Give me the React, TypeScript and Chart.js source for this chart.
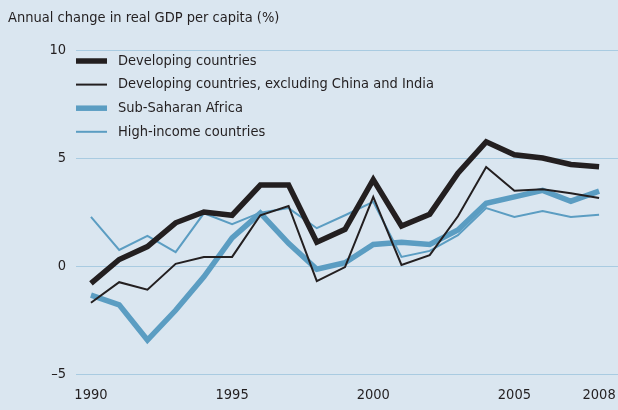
import React, { useEffect, useRef } from "react";
import { Chart, registerables } from "chart.js";

Chart.register(...registerables);

const years = [1990, 1991, 1992, 1993, 1994, 1995, 1996, 1997, 1998, 1999, 2000, 2001, 2002, 2003, 2004, 2005, 2006, 2007, 2008];
const developing = [-0.8, 0.3, 0.9, 2.0, 2.5, 2.35, 3.75, 3.75, 1.1, 1.7, 4.0, 1.85, 2.4, 4.3, 5.75, 5.15, 5.0, 4.7, 4.6];
const developingExCI = [-1.7, -0.75, -1.1, 0.1, 0.42, 0.42, 2.35, 2.78, -0.7, -0.05, 3.2, 0.05, 0.5, 2.3, 4.58, 3.48, 3.55, 3.37, 3.15];
const subSaharan = [-1.35, -1.8, -3.43, -2.05, -0.5, 1.3, 2.45, 1.05, -0.15, 0.15, 1.0, 1.1, 1.0, 1.67, 2.9, 3.2, 3.5, 3.0, 3.47];
const highIncome = [2.27, 0.74, 1.39, 0.64, 2.44, 1.94, 2.47, 2.68, 1.75, 2.35, 2.97, 0.42, 0.7, 1.43, 2.68, 2.27, 2.55, 2.27, 2.37];
const xTicks = [1990, 1995, 2000, 2005, 2008];
const yTicks = [-5, 0, 5, 10];
const titleText = "Annual change in real GDP per capita (%)";

const BLACK = "#231f20";
const BLUE = "#5b9dc2";
const BG = "#dae6f0";
const GRID = "#a9cbe1";
const TEXT = "#231f20";

function pickFont(): { family: string; size: number } {
  const c = document.createElement("canvas").getContext("2d")!;
  const candidates = ["Liberation Sans Narrow", "DejaVu Sans Condensed", "Roboto Condensed", "Open Sans Condensed", "Liberation Sans"];
  let fam = "Liberation Sans";
  for (const f of candidates) {
    c.font = "20px monospace";
    const a = c.measureText(titleText).width;
    c.font = `20px '${f}', monospace`;
    const b = c.measureText(titleText).width;
    if (Math.abs(a - b) > 0.5) {
      fam = f;
      break;
    }
  }
  c.font = `20px '${fam}', sans-serif`;
  const w = c.measureText(titleText).width;
  let size = Math.round((20 * 273) / w * 2) / 2;
  if (size > 19) size = 19;
  return { family: `'${fam}', sans-serif`, size };
}

export default function App() {
  const ref = useRef<HTMLCanvasElement | null>(null);
  useEffect(() => {
    document.body.style.margin = "0";
    const { family: FONT, size: FS } = pickFont();
    const canvas = ref.current!;
    const bgPlugin = {
      id: "bg",
      beforeDraw(chart: any) {
        const ctx = chart.ctx;
        ctx.save();
        ctx.fillStyle = BG;
        ctx.fillRect(0, 0, chart.width, chart.height);
        ctx.restore();
      },
    };
    const overlay = {
      id: "overlay",
      afterDraw(chart: any) {
        const ctx = chart.ctx;
        ctx.save();
        ctx.fillStyle = TEXT;
        ctx.font = `${FS}px ${FONT}`;
        ctx.textBaseline = "middle";
        ctx.textAlign = "left";
        ctx.fillText(titleText, 8, 18);
        const left = chart.chartArea.left;
        const top = chart.chartArea.top;
        chart.data.datasets.forEach((ds: any, i: number) => {
          const y = top + 11 + i * 23.6;
          ctx.beginPath();
          ctx.strokeStyle = ds.borderColor;
          ctx.lineWidth = ds.borderWidth;
          ctx.moveTo(left, y);
          ctx.lineTo(left + 31, y);
          ctx.stroke();
          ctx.fillStyle = TEXT;
          ctx.fillText(ds.label, left + 42, y);
        });
        ctx.restore();
      },
    };
    const chart = new Chart(canvas, {
      type: "line",
      data: {
        labels: years,
        datasets: [
          { label: "Developing countries", data: years.map((x, i) => ({ x, y: developing[i] })), borderColor: BLACK, borderWidth: 5.5 },
          { label: "Developing countries, excluding China and India", data: years.map((x, i) => ({ x, y: developingExCI[i] })), borderColor: BLACK, borderWidth: 2 },
          { label: "Sub-Saharan Africa", data: years.map((x, i) => ({ x, y: subSaharan[i] })), borderColor: BLUE, borderWidth: 5.5 },
          { label: "High-income countries", data: years.map((x, i) => ({ x, y: highIncome[i] })), borderColor: BLUE, borderWidth: 2 },
        ],
      },
      options: {
        animation: false,
        responsive: false,
        maintainAspectRatio: false,
        devicePixelRatio: 1,
        layout: { padding: { top: 50, right: 0, left: 0, bottom: 0 } },
        elements: {
          point: { radius: 0, hoverRadius: 0 },
          line: { tension: 0, borderJoinStyle: "miter", borderCapStyle: "butt", fill: false },
        },
        plugins: { legend: { display: false }, tooltip: { enabled: false }, title: { display: false } },
        scales: {
          x: {
            type: "linear",
            min: 1989.47,
            max: 2008.67,
            afterBuildTicks(scale: any) {
              scale.ticks = xTicks.map((v) => ({ value: v }));
            },
            afterFit(scale: any) {
              scale.height = 36;
              scale.paddingRight = 0;
              scale.paddingLeft = 0;
            },
            grid: { display: false, drawTicks: false },
            border: { display: false },
            ticks: {
              color: TEXT,
              font: { family: FONT, size: FS },
              padding: 13,
              maxRotation: 0,
              autoSkip: false,
              callback: (v: any) => String(v),
            },
          },
          y: {
            type: "linear",
            min: -5,
            max: 10,
            afterBuildTicks(scale: any) {
              scale.ticks = yTicks.map((v) => ({ value: v }));
            },
            afterFit(scale: any) {
              scale.width = 76;
              scale.paddingTop = 0;
              scale.paddingBottom = 0;
            },
            grid: { color: GRID, lineWidth: 1, drawTicks: false },
            border: { display: false },
            ticks: {
              color: TEXT,
              font: { family: FONT, size: FS },
              padding: 10,
              callback: (v: any) => (v < 0 ? "\u2013" + Math.abs(v) : String(v)),
            },
          },
        },
      },
      plugins: [bgPlugin, overlay],
    } as any);
    return () => chart.destroy();
  }, []);
  return (
    <div style={{ width: 618, height: 410, background: BG }}>
      <canvas ref={ref} width={618} height={410} style={{ display: "block", width: 618, height: 410 }} />
    </div>
  );
}
